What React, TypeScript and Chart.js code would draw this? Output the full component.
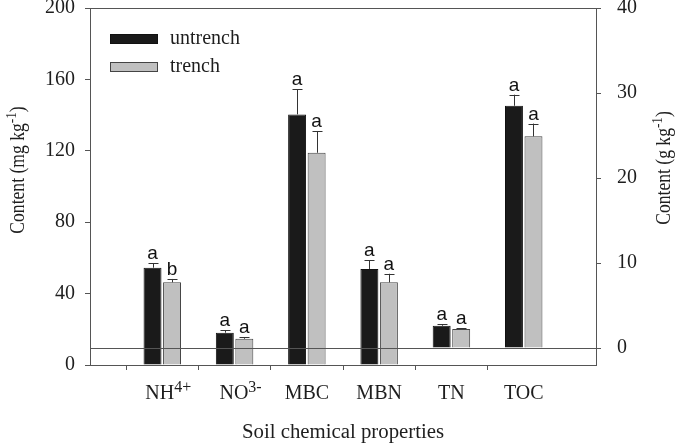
import React, { useEffect, useRef } from 'react';
import { Chart, registerables } from 'chart.js';

Chart.register(...registerables);

// ---- data ----
const categories = ['NH4+', 'NO3-', 'MBC', 'MBN', 'TN', 'TOC'];
const catBase = ['NH', 'NO', 'MBC', 'MBN', 'TN', 'TOC'];
const catSup = ['4+', '3-', '', '', '', ''];
const axisSide = ['left', 'left', 'left', 'left', 'right', 'right'];
const untrenchValues = [54.5, 18.1, 140.4, 53.8, 2.62, 28.5];
const untrenchErr = [2.5, 1.3, 14.0, 5.0, 0.16, 1.3];
const trenchValues = [46.3, 14.7, 118.9, 46.3, 2.24, 24.9];
const trenchErr = [1.9, 0.8, 12.2, 4.8, 0.08, 1.5];
const untrenchSig = ['a', 'a', 'a', 'a', 'a', 'a'];
const trenchSig = ['b', 'a', 'a', 'a', 'a', 'a'];
const leftTicks = [0, 40, 80, 120, 160, 200];
const rightTicks = [0, 10, 20, 30, 40];
const seriesNames = ['untrench', 'trench'];
const xTitle = 'Soil chemical properties';
const yLeftTitle = ['Content (mg kg', '-1', ')'];
const yRightTitle = ['Content (g kg', '-1', ')'];

const SERIF = '"Liberation Serif", "Times New Roman", serif';
const SANS = '"Liberation Sans", Arial, sans-serif';
const AXIS = '#555';
const TEXT = '#1e1e1e';
const FILL = ['#1a1a1a', '#c0c0c0'];
const EDGE = ['#111', '#444'];

const labels = ['', ...categories, ''];
const pad = (arr: (number | null)[]) => [null, ...arr, null];
const pick = (vals: number[], side: string) => pad(vals.map((v, i) => (axisSide[i] === side ? v : null)));

function drawRich(ctx: CanvasRenderingContext2D, base: string, sup: string, tail: string, x: number, y: number, baseSize: number, supSize: number, rise: number) {
  ctx.font = `${baseSize}px ${SERIF}`;
  const w1 = ctx.measureText(base).width;
  const w3 = ctx.measureText(tail).width;
  ctx.font = `${supSize}px ${SERIF}`;
  const w2 = ctx.measureText(sup).width;
  const total = w1 + w2 + w3;
  let cx = x - total / 2;
  ctx.textAlign = 'left';
  ctx.textBaseline = 'alphabetic';
  ctx.font = `${baseSize}px ${SERIF}`;
  ctx.fillText(base, cx, y);
  cx += w1;
  ctx.font = `${supSize}px ${SERIF}`;
  ctx.fillText(sup, cx, y - rise);
  cx += w2;
  ctx.font = `${baseSize}px ${SERIF}`;
  ctx.fillText(tail, cx, y);
}

const decorPlugin = {
  id: 'decor',
  afterDatasetsDraw(chart: any) {
    const ctx: CanvasRenderingContext2D = chart.ctx;
    const { left, right, top } = chart.chartArea;
    const yR = chart.scales.yR;
    const x = chart.scales.x;
    ctx.save();
    // top frame line
    ctx.strokeStyle = AXIS;
    ctx.lineWidth = 1;
    ctx.beginPath();
    ctx.moveTo(left, top + 0.5);
    ctx.lineTo(right, top + 0.5);
    ctx.stroke();
    // right axis zero line
    const z = Math.round(yR.getPixelForValue(0)) + 0.5;
    ctx.beginPath();
    ctx.moveTo(left, z);
    ctx.lineTo(right, z);
    ctx.stroke();

    // error bars + significance letters
    const errs = [untrenchErr, trenchErr, untrenchErr, trenchErr];
    const vals = [untrenchValues, trenchValues, untrenchValues, trenchValues];
    const sigs = [untrenchSig, trenchSig, untrenchSig, trenchSig];
    chart.data.datasets.forEach((ds: any, di: number) => {
      const meta = chart.getDatasetMeta(di);
      const scale = chart.scales[ds.yAxisID];
      meta.data.forEach((el: any, idx: number) => {
        const raw = ds.data[idx];
        if (raw === null || raw === undefined) return;
        const ci = idx - 1;
        const v = vals[di][ci];
        const e = errs[di][ci];
        const yTop = scale.getPixelForValue(v);
        const yErr = scale.getPixelForValue(v + e);
        const cx = Math.round(el.x) + 0.5;
        ctx.strokeStyle = '#333';
        ctx.lineWidth = 1;
        ctx.beginPath();
        ctx.moveTo(cx, yTop);
        ctx.lineTo(cx, yErr);
        ctx.moveTo(cx - 5, Math.round(yErr) + 0.5);
        ctx.lineTo(cx + 5, Math.round(yErr) + 0.5);
        ctx.stroke();
        ctx.fillStyle = '#111';
        ctx.font = `19px ${SANS}`;
        ctx.textAlign = 'center';
        ctx.textBaseline = 'alphabetic';
        ctx.fillText(sigs[di][ci], el.x, yErr - 4);
      });
    });

    // legend
    ctx.font = `20px ${SERIF}`;
    seriesNames.forEach((name, i) => {
      const bx = left + 20;
      const by = top + 26 + i * 28;
      ctx.fillStyle = FILL[i];
      ctx.fillRect(bx, by, 48, 10);
      ctx.strokeStyle = EDGE[i];
      ctx.strokeRect(bx + 0.5, by + 0.5, 47, 9);
      ctx.fillStyle = TEXT;
      ctx.textAlign = 'left';
      ctx.textBaseline = 'middle';
      ctx.fillText(name, bx + 60, by + 5);
    });

    // x tick labels
    ctx.fillStyle = TEXT;
    categories.forEach((c, i) => {
      const px = x.getPixelForValue(i + 1);
      drawRich(ctx, catBase[i], catSup[i], '', px + (catSup[i] ? 6 : 0), 399, 20, 16, 7);
    });
    // x title
    ctx.font = `20.8px ${SERIF}`;
    ctx.textAlign = 'center';
    ctx.textBaseline = 'alphabetic';
    ctx.fillText(xTitle, (left + right) / 2, 438);

    // y titles (slightly condensed along the text direction)
    ctx.save();
    ctx.translate(24, 170);
    ctx.rotate(-Math.PI / 2);
    ctx.scale(0.88, 1);
    drawRich(ctx, yLeftTitle[0], yLeftTitle[1], yLeftTitle[2], 0, 0, 20, 15, 8);
    ctx.restore();
    ctx.save();
    ctx.translate(670, 168);
    ctx.rotate(-Math.PI / 2);
    ctx.scale(0.88, 1);
    drawRich(ctx, yRightTitle[0], yRightTitle[1], yRightTitle[2], 0, 0, 20, 15, 8);
    ctx.restore();
    ctx.restore();
  },
};

export default function App() {
  const ref = useRef<HTMLCanvasElement>(null);
  useEffect(() => {
    document.body.style.margin = '0';
    const canvas = ref.current;
    if (!canvas) return;
    const mkDs = (si: number, side: string) => ({
      label: seriesNames[si],
      data: pick(si === 0 ? untrenchValues : trenchValues, side),
      yAxisID: side === 'left' ? 'yL' : 'yR',
      backgroundColor: FILL[si],
      borderColor: EDGE[si],
      borderWidth: 1,
      categoryPercentage: 0.54,
      barPercentage: 0.92,
      skipNull: true,
    });
    const chart = new Chart(canvas, {
      type: 'bar',
      data: {
        labels,
        datasets: [mkDs(0, 'left'), mkDs(1, 'left'), mkDs(0, 'right'), mkDs(1, 'right')],
      },
      options: {
        responsive: false,
        animation: false,
        layout: { padding: { top: 8, left: 0, right: 0, bottom: 0 } },
        plugins: { legend: { display: false }, tooltip: { enabled: false } },
        scales: {
          x: {
            offset: false,
            grid: {
              drawOnChartArea: false,
              tickLength: 5,
              color: (c: any) => (c.index === 0 || c.index === labels.length - 1 ? 'rgba(0,0,0,0)' : AXIS),
            },
            border: { color: AXIS },
            ticks: { display: false },
            afterFit: (s: any) => {
              s.height = 79;
              s.paddingLeft = 0;
              s.paddingRight = 0;
            },
          },
          yL: {
            type: 'linear',
            position: 'left',
            min: 0,
            max: 200,
            afterBuildTicks: (s: any) => {
              s.ticks = leftTicks.map((v) => ({ value: v }));
            },
            grid: { drawOnChartArea: false, tickLength: 5, color: AXIS },
            border: { color: AXIS },
            ticks: { font: { family: SERIF, size: 20 }, color: TEXT, padding: 10 },
            afterFit: (s: any) => {
              s.width = 90;
              s.paddingTop = 0;
              s.paddingBottom = 0;
            },
          },
          yR: {
            type: 'linear',
            position: 'right',
            min: -2,
            max: 40,
            afterBuildTicks: (s: any) => {
              s.ticks = rightTicks.map((v) => ({ value: v }));
            },
            grid: { drawOnChartArea: false, tickLength: 5, color: AXIS },
            border: { color: AXIS },
            ticks: { font: { family: SERIF, size: 20 }, color: TEXT, padding: 16 },
            afterFit: (s: any) => {
              s.width = 79;
              s.paddingTop = 0;
              s.paddingBottom = 0;
            },
          },
        },
      },
      plugins: [decorPlugin],
    });
    return () => chart.destroy();
  }, []);
  return (
    <div style={{ width: 675, height: 444, background: '#fff' }}>
      <canvas ref={ref} width={675} height={444} />
    </div>
  );
}
